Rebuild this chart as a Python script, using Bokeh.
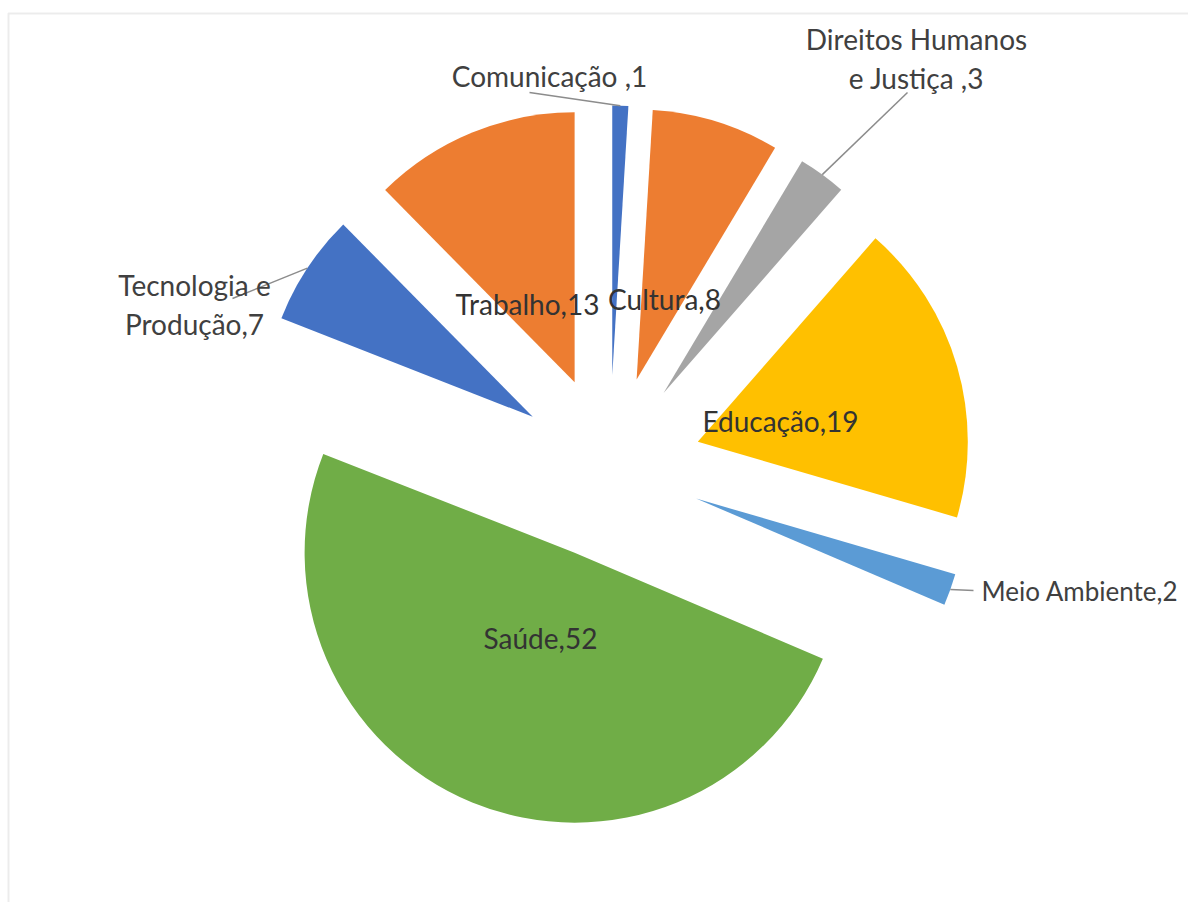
import numpy as np
from bokeh.plotting import figure
from bokeh.models import ColumnDataSource, Range1d, BoxAnnotation
from bokeh.core.properties import value
from bokeh.embed import file_html
from bokeh.resources import INLINE

# ---- data ----
categories = ["Comunicação", "Cultura", "Direitos Humanos e Justiça", "Educação",
              "Meio Ambiente", "Saúde", "Tecnologia e Produção", "Trabalho"]
values = [1, 8, 3, 19, 2, 52, 7, 13]
label_texts = ["Comunicação ,1", "Cultura,8", "Direitos Humanos\ne Justiça ,3", "Educação,19",
               "Meio Ambiente,2", "Saúde,52", "Tecnologia e\nProdução,7", "Trabalho,13"]
colors = ["#4472C4", "#ED7D31", "#A5A5A5", "#FFC000",
          "#5B9BD5", "#70AD47", "#4472C4", "#ED7D31"]

# ---- layout (pixels of the plot frame, y up) ----
W, H = 1188, 902
CX, CY = 602, 443      # pie centre
R = 270                # radius
EXPLODE = 92           # explosion distance
FONT = "Lato"
TEXT_COL = "#404040"
INNER_COL = "#333333"

# label anchors and alignment
label_layout = {
    "Comunicação": dict(x=542, y=835, align="center", leader=(522, 818), col=TEXT_COL, fs="28px"),
    "Cultura": dict(x=657, y=612, align="center", leader=None, col=INNER_COL, fs="28px"),
    "Direitos Humanos e Justiça": dict(x=909, y=852, align="center", leader=(900, 818), col=TEXT_COL, fs="28px"),
    "Educação": dict(x=773, y=490, align="center", leader=None, col=INNER_COL, fs="28px"),
    "Meio Ambiente": dict(x=974, y=320, align="left", leader=(966, 320), col=TEXT_COL, fs="26px"),
    "Saúde": dict(x=533, y=273, align="center", leader=None, col=INNER_COL, fs="28px"),
    "Tecnologia e Produção": dict(x=187, y=606, align="center", leader=(225, 612), col=TEXT_COL, fs="28px"),
    "Trabalho": dict(x=520, y=607, align="center", leader=None, col=INNER_COL, fs="28px"),
}

vals = np.array(values, dtype=float)
total = vals.sum()
cum = np.cumsum(vals)
a2 = cum / total * 2 * np.pi            # clockwise-from-top end angles
a1 = np.concatenate([[0.0], a2[:-1]])
start = np.pi / 2 - a2
end = np.pi / 2 - a1
mid = np.pi / 2 - (a1 + a2) / 2
xs = CX + EXPLODE * np.cos(mid)
ys = CY + EXPLODE * np.sin(mid)

src = ColumnDataSource(dict(x=xs, y=ys, start=start, end=end, color=colors, cat=categories))

p = figure(width=W, height=H, x_range=Range1d(-7, W - 7), y_range=Range1d(8, H + 8),
           output_backend="svg", toolbar_location=None, min_border=0)
p.axis.visible = False
p.grid.visible = False
p.outline_line_color = None
p.background_fill_color = "white"
p.border_fill_color = "white"

p.wedge(x="x", y="y", radius=R, start_angle="start", end_angle="end",
        direction="anticlock", fill_color="color", line_color=None, source=src)

# leader lines (from outer arc at mid angle to label anchor)
lx0, ly0, lx1, ly1 = [], [], [], []
for i, c in enumerate(categories):
    lay = label_layout[c]
    if lay["leader"] is not None:
        lx0.append(xs[i] + R * np.cos(mid[i]))
        ly0.append(ys[i] + R * np.sin(mid[i]))
        lx1.append(lay["leader"][0])
        ly1.append(lay["leader"][1])
p.segment(x0=lx0, y0=ly0, x1=lx1, y1=ly1, line_color="#8c8c8c", line_width=1.5)

tsrc = dict(x=[], y=[], text=[], col=[], fs=[], align=[])
for i, c in enumerate(categories):
    lay = label_layout[c]
    tsrc["x"].append(lay["x"]); tsrc["y"].append(lay["y"]); tsrc["text"].append(label_texts[i])
    tsrc["col"].append(lay["col"]); tsrc["fs"].append(lay["fs"]); tsrc["align"].append(lay["align"])
p.text(x="x", y="y", text="text", text_color="col", text_font=value(FONT), text_font_size="fs",
       text_align="align", text_baseline="middle", text_line_height=1.15,
       source=ColumnDataSource(tsrc))

# chart-area frame (continues past the right and bottom edges)
p.add_layout(BoxAnnotation(left=1, right=5000, top=897, bottom=-5000,
                           fill_alpha=0, line_color="#bfbfbf", line_width=2))

open("out.html", "w").write(file_html(p, INLINE))
